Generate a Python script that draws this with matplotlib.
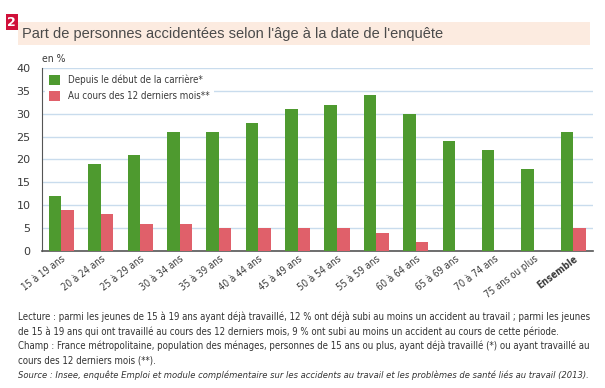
import matplotlib
matplotlib.use("Agg")
import matplotlib.pyplot as plt
from matplotlib.patches import Rectangle
import numpy as np

# ---------------------------------------------------------------------------
# Data
# ---------------------------------------------------------------------------

categories = ["15 à 19 ans", "20 à 24 ans", "25 à 29 ans", "30 à 34 ans",
              "35 à 39 ans", "40 à 44 ans", "45 à 49 ans", "50 à 54 ans",
              "55 à 59 ans", "60 à 64 ans", "65 à 69 ans", "70 à 74 ans",
              "75 ans ou plus", "Ensemble"]
carriere = [12, 19, 21, 26, 26, 28, 31, 32, 34, 30, 24, 22, 18, 26]
derniers_12_mois = [9, 8, 6, 6, 5, 5, 5, 5, 4, 2, 0, 0, 0, 5]
yticks = [0, 5, 10, 15, 20, 25, 30, 35, 40]

GREEN = "#4e9a2f"
RED = "#e0606a"
TXT = "#3a3a3a"
COND = {"family": "DejaVu Sans", "stretch": "condensed"}

# ---------------------------------------------------------------------------
# Figure
# ---------------------------------------------------------------------------

fig = plt.figure(figsize=(6.05, 3.88), dpi=100)
ax = fig.add_axes([0.069, 0.353, 0.911, 0.472])

x = np.arange(len(categories))
w = 0.32
ax.bar(x - w / 2, carriere, w, color=GREEN, label="Depuis le début de la carrière*", zorder=3)
ax.bar(x + w / 2, derniers_12_mois, w, color=RED, label="Au cours des 12 derniers mois**", zorder=3)

ax.set_xlim(-0.5, len(categories) - 0.5)
ax.set_ylim(0, 40)
ax.set_yticks(yticks)
ax.tick_params(axis="y", length=0, labelsize=8, colors=TXT, pad=8)
ax.tick_params(axis="x", length=0, pad=2)
ax.set_xticks(x)
ax.set_xticklabels(categories, rotation=37, ha="right", rotation_mode="anchor",
                   fontsize=7, color=TXT, fontfamily="DejaVu Sans", fontstretch="condensed")
ax.get_xticklabels()[-1].set_fontweight("bold")
ax.grid(axis="y", color="#c9dced", linewidth=1, zorder=0)
for s in ["top", "right"]:
    ax.spines[s].set_visible(False)
ax.spines["left"].set_color("#555555")
ax.spines["bottom"].set_color("#555555")
ax.spines["bottom"].set_linewidth(1.2)

leg = ax.legend(loc="upper left", bbox_to_anchor=(0.0, 1.0), frameon=True,
                handlelength=1.2, handleheight=1.2, borderaxespad=0.3, labelspacing=0.6,
                prop={**COND, "size": 7})
leg.get_frame().set_edgecolor("none")
leg.get_frame().set_facecolor("white")
leg.get_frame().set_alpha(1)
leg.set_zorder(5)
for t in leg.get_texts():
    t.set_color(TXT)

fig.text(0.069, 0.84, "en %", fontsize=7.5, color=TXT, fontfamily="DejaVu Sans",
         fontstretch="condensed")

# title band
fig.patches.append(Rectangle((0.030, 0.885), 0.945, 0.058, transform=fig.transFigure,
                             facecolor="#fcebe0", edgecolor="none", zorder=0))
fig.patches.append(Rectangle((0.010, 0.922), 0.019, 0.042, transform=fig.transFigure,
                             facecolor="#d0103a", edgecolor="none", zorder=1))
fig.text(0.0195, 0.943, "2", fontsize=9, color="white", fontweight="bold",
         ha="center", va="center")
fig.text(0.037, 0.913, "Part de personnes accidentées selon l'âge à la date de l'enquête",
         fontsize=10.5, color="#4a4a4a", va="center", fontfamily="Liberation Sans")

notes = [
    ("Lecture : parmi les jeunes de 15 à 19 ans ayant déjà travaillé, 12 % ont déjà subi au moins un accident au travail ; parmi les jeunes", "normal", 6.9),
    ("de 15 à 19 ans qui ont travaillé au cours des 12 derniers mois, 9 % ont subi au moins un accident au cours de cette période.", "normal", 6.9),
    ("Champ : France métropolitaine, population des ménages, personnes de 15 ans ou plus, ayant déjà travaillé (*) ou ayant travaillé au", "normal", 6.9),
    ("cours des 12 derniers mois (**).", "normal", 6.9),
    ("Source : Insee, enquête Emploi et module complémentaire sur les accidents au travail et les problèmes de santé liés au travail (2013).", "italic", 6.75),
]
y0 = 1 - 317 / 388
for i, (line, style, size) in enumerate(notes):
    fig.text(0.030, y0 - i * 0.0374, line, fontsize=size, color="#333333", style=style,
             fontfamily="DejaVu Sans", fontstretch="condensed", va="center")

fig.savefig("out.png", dpi=100)
